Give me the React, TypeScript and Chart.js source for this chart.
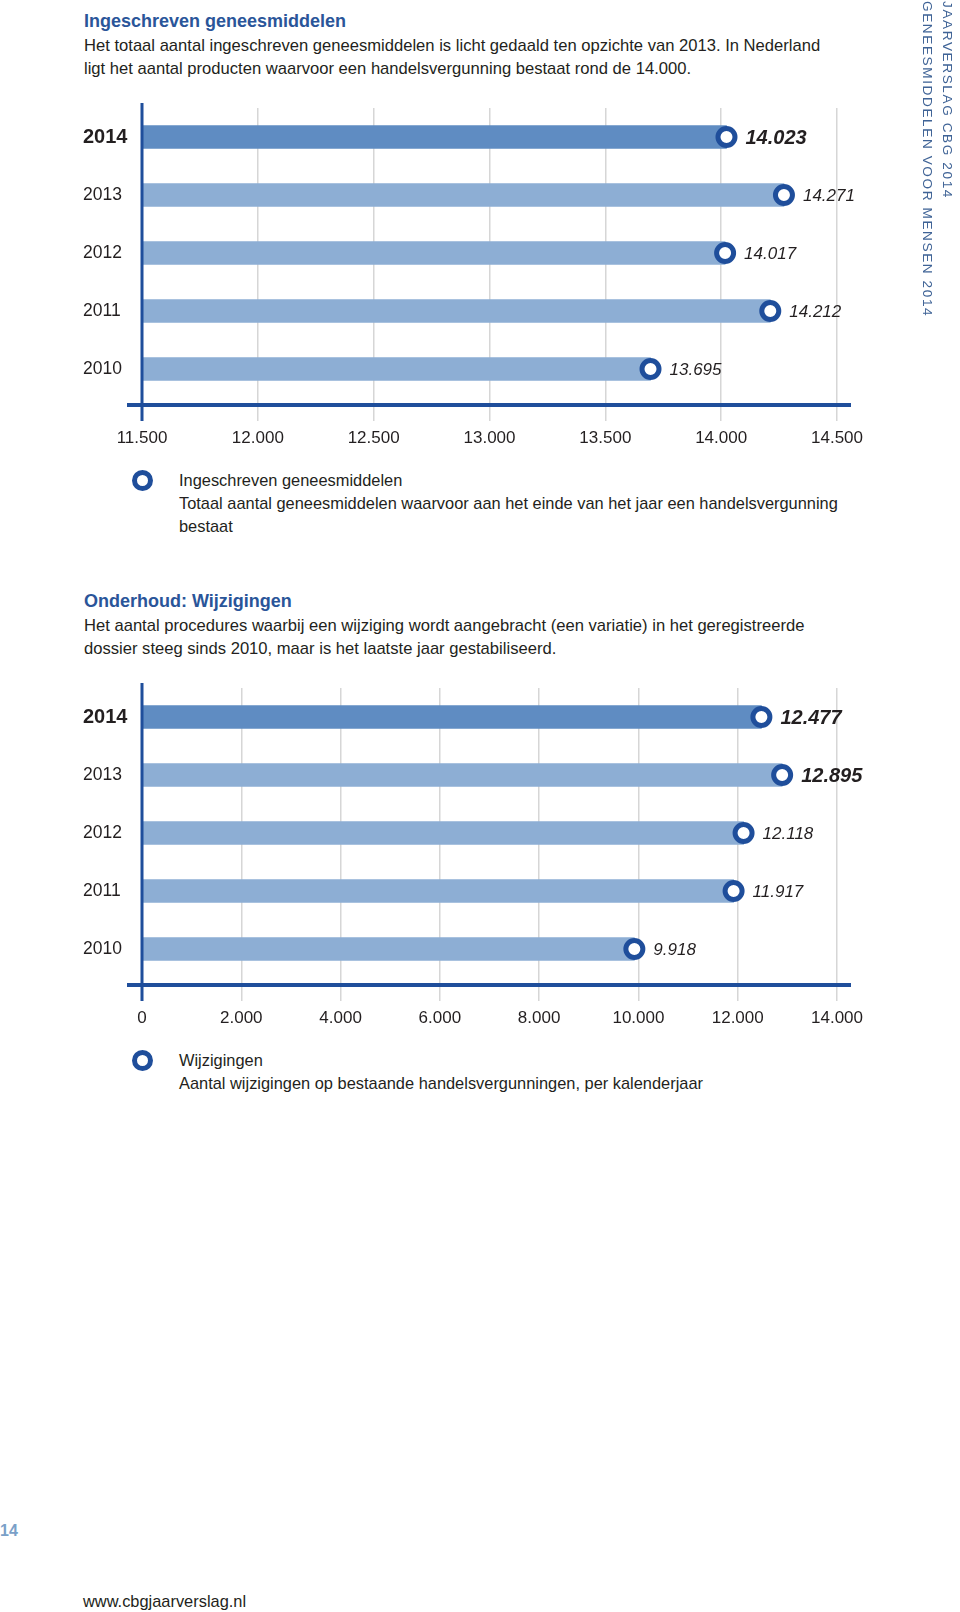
import React, { useEffect, useRef } from 'react';
import { Chart, registerables } from 'chart.js';

Chart.register(...registerables);

const FONT = "'Liberation Sans', Arial, Helvetica, sans-serif";
const DARK_BLUE = '#1f4e9b';
const TITLE_BLUE = '#2a5599';
const BAR_DARK = '#5f8cc2';
const BAR_LIGHT = '#8daed4';
const TEXT = '#231f20';
const GRID = '#d6d6d6';

// ---- data ----
const years = ['2014', '2013', '2012', '2011', '2010'];

const registeredValues = [14023, 14271, 14017, 14212, 13695];
const registeredBold = [true, false, false, false, false];
const registeredTicks = [11500, 12000, 12500, 13000, 13500, 14000, 14500];

const variationValues = [12477, 12895, 12118, 11917, 9918];
const variationBold = [true, true, false, false, false];
const variationTicks = [0, 2000, 4000, 6000, 8000, 10000, 12000, 14000];

function fmt(n: number): string {
  return String(Math.round(n)).replace(/\B(?=(\d{3})+(?!\d))/g, '.');
}

const decorPlugin = {
  id: 'decor',
  afterDatasetsDraw(chart: any) {
    const opts = chart.options.plugins.decor || {};
    const bold: boolean[] = opts.bold || [];
    const { ctx, chartArea } = chart;
    const { left, right, top, bottom } = chartArea;
    ctx.save();
    ctx.strokeStyle = DARK_BLUE;
    ctx.lineCap = 'butt';
    // horizontal axis line
    ctx.lineWidth = 4;
    ctx.beginPath();
    ctx.moveTo(left - 15, bottom + 7);
    ctx.lineTo(right + 14, bottom + 7);
    ctx.stroke();
    // vertical axis line
    ctx.lineWidth = 3;
    ctx.beginPath();
    ctx.moveTo(left, top - 5);
    ctx.lineTo(left, bottom + 23);
    ctx.stroke();
    // value labels
    const meta = chart.getDatasetMeta(0);
    const data = chart.data.datasets[0].data as number[];
    meta.data.forEach((pt: any, i: number) => {
      const b = !!bold[i];
      ctx.font = `italic ${b ? 'bold ' : ''}${b ? 20 : 17}px ${FONT}`;
      ctx.fillStyle = TEXT;
      ctx.textAlign = 'left';
      ctx.textBaseline = 'middle';
      ctx.fillText(fmt(data[i]), pt.x + 19, pt.y + 1);
    });
    ctx.restore();
  },
};

type BarProps = {
  top: number;
  values: number[];
  bold: boolean[];
  ticks: number[];
};

function BarChart({ top, values, bold, ticks }: BarProps) {
  const ref = useRef<HTMLCanvasElement>(null);
  useEffect(() => {
    if (!ref.current) return;
    const chart = new Chart(ref.current, {
      type: 'bar',
      data: {
        labels: years,
        datasets: [
          {
            type: 'line',
            data: values,
            showLine: false,
            pointStyle: 'circle',
            pointRadius: 8.5,
            pointHoverRadius: 8.5,
            pointBorderWidth: 5,
            pointBackgroundColor: '#ffffff',
            pointBorderColor: DARK_BLUE,
            clip: false,
            order: 0,
          } as any,
          {
            type: 'bar',
            data: values,
            backgroundColor: years.map((_, i) => (i === 0 ? BAR_DARK : BAR_LIGHT)),
            borderWidth: 0,
            barThickness: 23,
            order: 1,
          } as any,
        ],
      },
      options: {
        indexAxis: 'y',
        animation: false,
        responsive: false,
        maintainAspectRatio: false,
        events: [],
        layout: { padding: { left: 83, right: 123, top: 18, bottom: 0 } },
        plugins: {
          legend: { display: false },
          tooltip: { enabled: false },
          decor: { bold },
        } as any,
        scales: {
          x: {
            type: 'linear',
            min: ticks[0],
            max: ticks[ticks.length - 1],
            afterBuildTicks: (s: any) => {
              s.ticks = ticks.map((v) => ({ value: v }));
            },
            afterFit: (s: any) => {
              s.height = 62;
            },
            border: { display: false },
            grid: {
              color: GRID,
              lineWidth: 1.5,
              tickLength: 23,
              drawTicks: true,
            },
            ticks: {
              color: TEXT,
              font: { family: FONT, size: 17 },
              padding: 7,
              maxRotation: 0,
              callback: (v: any) => fmt(Number(v)),
            },
          },
          y: {
            type: 'category',
            afterFit: (s: any) => {
              s.width = 59;
            },
            border: { display: false },
            grid: { display: false, drawTicks: false },
            ticks: {
              crossAlign: 'far',
              color: TEXT,
              padding: 0,
              font: (c: any) => ({
                family: FONT,
                size: c.index === 0 ? 20 : 17.5,
                weight: c.index === 0 ? 'bold' : 'normal',
              }),
            },
          },
        },
      } as any,
      plugins: [decorPlugin],
    });
    return () => chart.destroy();
  }, []);
  return (
    <canvas
      ref={ref}
      width={960}
      height={370}
      style={{ position: 'absolute', left: 0, top, width: 960, height: 370 }}
    />
  );
}

function LegendRing({ cx, cy }: { cx: number; cy: number }) {
  return (
    <div
      style={{
        position: 'absolute',
        left: cx - 10.5,
        top: cy - 10.5,
        width: 21,
        height: 21,
        border: `5px solid ${DARK_BLUE}`,
        borderRadius: '50%',
        boxSizing: 'border-box',
        background: '#fff',
      }}
    />
  );
}

const abs = (left: number, top: number, extra: React.CSSProperties = {}): React.CSSProperties => ({
  position: 'absolute',
  left,
  top,
  whiteSpace: 'nowrap',
  ...extra,
});

const sideText: React.CSSProperties = {
  writingMode: 'vertical-rl',
  fontSize: 13.6,
  letterSpacing: '1.6px',
  lineHeight: '16px',
  color: '#3f6396',
};

export default function App() {
  return (
    <div
      style={{
        position: 'absolute',
        left: 0,
        top: 0,
        width: 960,
        height: 1612,
        background: '#ffffff',
        overflow: 'hidden',
        fontFamily: FONT,
        color: TEXT,
      }}
    >
      {/* Section 1 */}
      <div style={abs(84, 10, { fontSize: 18, fontWeight: 'bold', color: TITLE_BLUE, lineHeight: '23px' })}>
        Ingeschreven geneesmiddelen
      </div>
      <div style={abs(84, 34, { fontSize: 16.6, lineHeight: '23px' })}>
        Het totaal aantal ingeschreven geneesmiddelen is licht gedaald ten opzichte van 2013. In Nederland
        <br />
        ligt het aantal producten waarvoor een handelsvergunning bestaat rond de 14.000.
      </div>

      <BarChart top={90} values={registeredValues} bold={registeredBold} ticks={registeredTicks} />

      <LegendRing cx={142} cy={480} />
      <div style={abs(179, 469, { fontSize: 16.4, lineHeight: '23px' })}>
        Ingeschreven geneesmiddelen
        <br />
        Totaal aantal geneesmiddelen waarvoor aan het einde van het jaar een handelsvergunning
        <br />
        bestaat
      </div>

      {/* Section 2 */}
      <div style={abs(84, 590, { fontSize: 18, fontWeight: 'bold', color: TITLE_BLUE, lineHeight: '23px' })}>
        Onderhoud: Wijzigingen
      </div>
      <div style={abs(84, 614, { fontSize: 16.6, lineHeight: '23px' })}>
        Het aantal procedures waarbij een wijziging wordt aangebracht (een variatie) in het geregistreerde
        <br />
        dossier steeg sinds 2010, maar is het laatste jaar gestabiliseerd.
      </div>

      <BarChart top={670} values={variationValues} bold={variationBold} ticks={variationTicks} />

      <LegendRing cx={142} cy={1060} />
      <div style={abs(179, 1049, { fontSize: 16.4, lineHeight: '23px' })}>
        Wijzigingen
        <br />
        Aantal wijzigingen op bestaande handelsvergunningen, per kalenderjaar
      </div>

      {/* Side running header */}
      <div style={abs(939, 1, sideText)}>JAARVERSLAG CBG 2014</div>
      <div style={abs(919, 1, sideText)}>GENEESMIDDELEN VOOR MENSEN 2014</div>

      {/* Footer */}
      <div style={abs(0, 1521, { fontSize: 16, fontWeight: 'bold', color: '#7aa0c8', lineHeight: '20px' })}>14</div>
      <div style={abs(83, 1591, { fontSize: 16.4, lineHeight: '20px' })}>www.cbgjaarverslag.nl</div>
    </div>
  );
}
